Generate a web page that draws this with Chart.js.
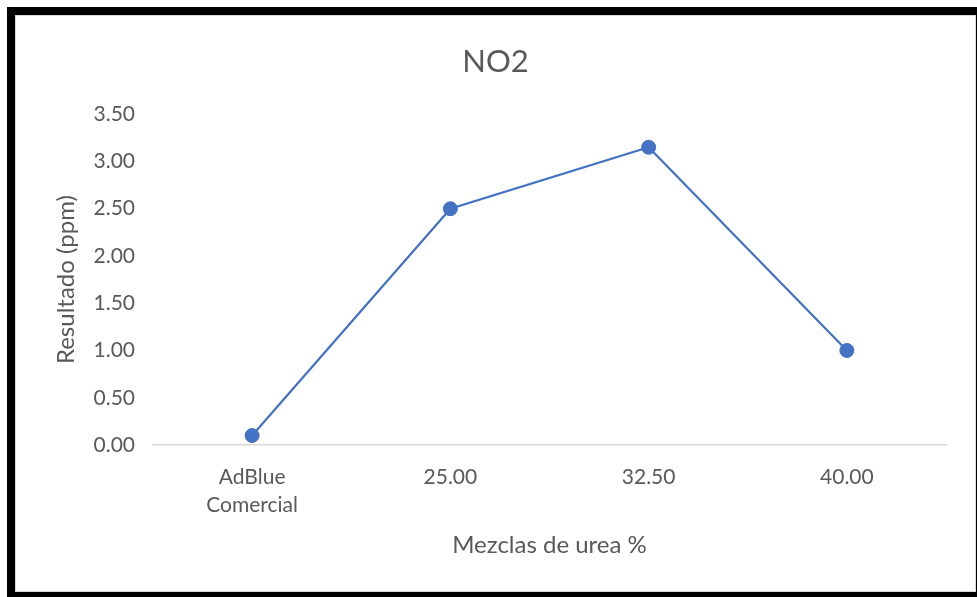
<!DOCTYPE html>
<html>
<head>
<meta charset="utf-8">
<script src="https://cdn.jsdelivr.net/npm/chart.js@4/dist/chart.umd.min.js"></script>
<style>
  html, body { margin: 0; padding: 0; background: #ffffff; width: 977px; height: 597px; overflow: hidden; }
  #frame { position: absolute; left: 7px; top: 7px; width: 970px; height: 590px; background: #000000; }
  #panel { position: absolute; left: 15px; top: 15px; width: 961px; height: 577px; background: #ffffff; border: 1px solid #d9d9d9; box-sizing: border-box; }
  #chart { position: absolute; left: 16px; top: 16px; }
</style>
</head>
<body>
<div id="frame"></div>
<div id="panel"></div>
<canvas id="chart" width="959" height="575"></canvas>
<script>
// Mezclas evaluadas y resultado de NO2 medido en cada una
const categories = [["AdBlue", "Comercial"], "25.00", "32.50", "40.00"];
const no2Values = [0.1, 2.5, 3.15, 1.0];
const yTicks = [0, 0.5, 1, 1.5, 2, 2.5, 3, 3.5];

const textColor = "#595959";
const fontFamily = "Lato, 'Open Sans', sans-serif";

new Chart(document.getElementById("chart"), {
  type: "line",
  data: {
    labels: categories,
    datasets: [{
      label: "NO2",
      data: no2Values,
      borderColor: "#4472C4",
      backgroundColor: "#4472C4",
      borderWidth: 2.25,
      pointRadius: 7,
      pointHoverRadius: 7,
      pointBorderWidth: 1,
      pointBorderColor: "#4472C4",
      tension: 0
    }]
  },
  options: {
    responsive: false,
    animation: false,
    layout: { padding: 0 },
    plugins: {
      legend: { display: false },
      tooltip: { enabled: false },
      title: {
        display: true,
        text: "NO2",
        color: textColor,
        font: { family: fontFamily, size: 31, weight: "normal" },
        padding: { top: 27, bottom: 34 }
      }
    },
    scales: {
      x: {
        offset: true,
        grid: { display: false, drawTicks: false },
        border: { display: true, color: "#d9d9d9", width: 1.5 },
        ticks: {
          color: textColor,
          font: { family: fontFamily, size: 21, lineHeight: 1.33 },
          padding: 18,
          maxRotation: 0,
          autoSkip: false
        },
        title: {
          display: true,
          text: "Mezclas de urea %",
          color: textColor,
          font: { family: fontFamily, size: 24 },
          padding: { top: 0, bottom: 31 }
        },
        afterFit: (scale) => { scale.height = 146; }
      },
      y: {
        min: 0,
        max: 3.5,
        grid: { display: false, drawTicks: false },
        border: { display: false },
        afterBuildTicks: (scale) => { scale.ticks = yTicks.map(v => ({ value: v })); },
        ticks: {
          color: textColor,
          font: { family: fontFamily, size: 21 },
          padding: 18,
          callback: (v) => Number(v).toFixed(2)
        },
        title: {
          display: true,
          text: "Resultado (ppm)",
          color: textColor,
          font: { family: fontFamily, size: 24 },
          padding: { top: 36, bottom: 0 }
        },
        afterFit: (scale) => { scale.width = 137; }
      },
      // empty margin on the right of the plot area
      margin: {
        type: "linear",
        position: "right",
        display: true,
        grid: { display: false, drawTicks: false },
        border: { display: false },
        ticks: { display: false },
        afterFit: (scale) => { scale.width = 29; }
      }
    }
  }
});
</script>
</body>
</html>
